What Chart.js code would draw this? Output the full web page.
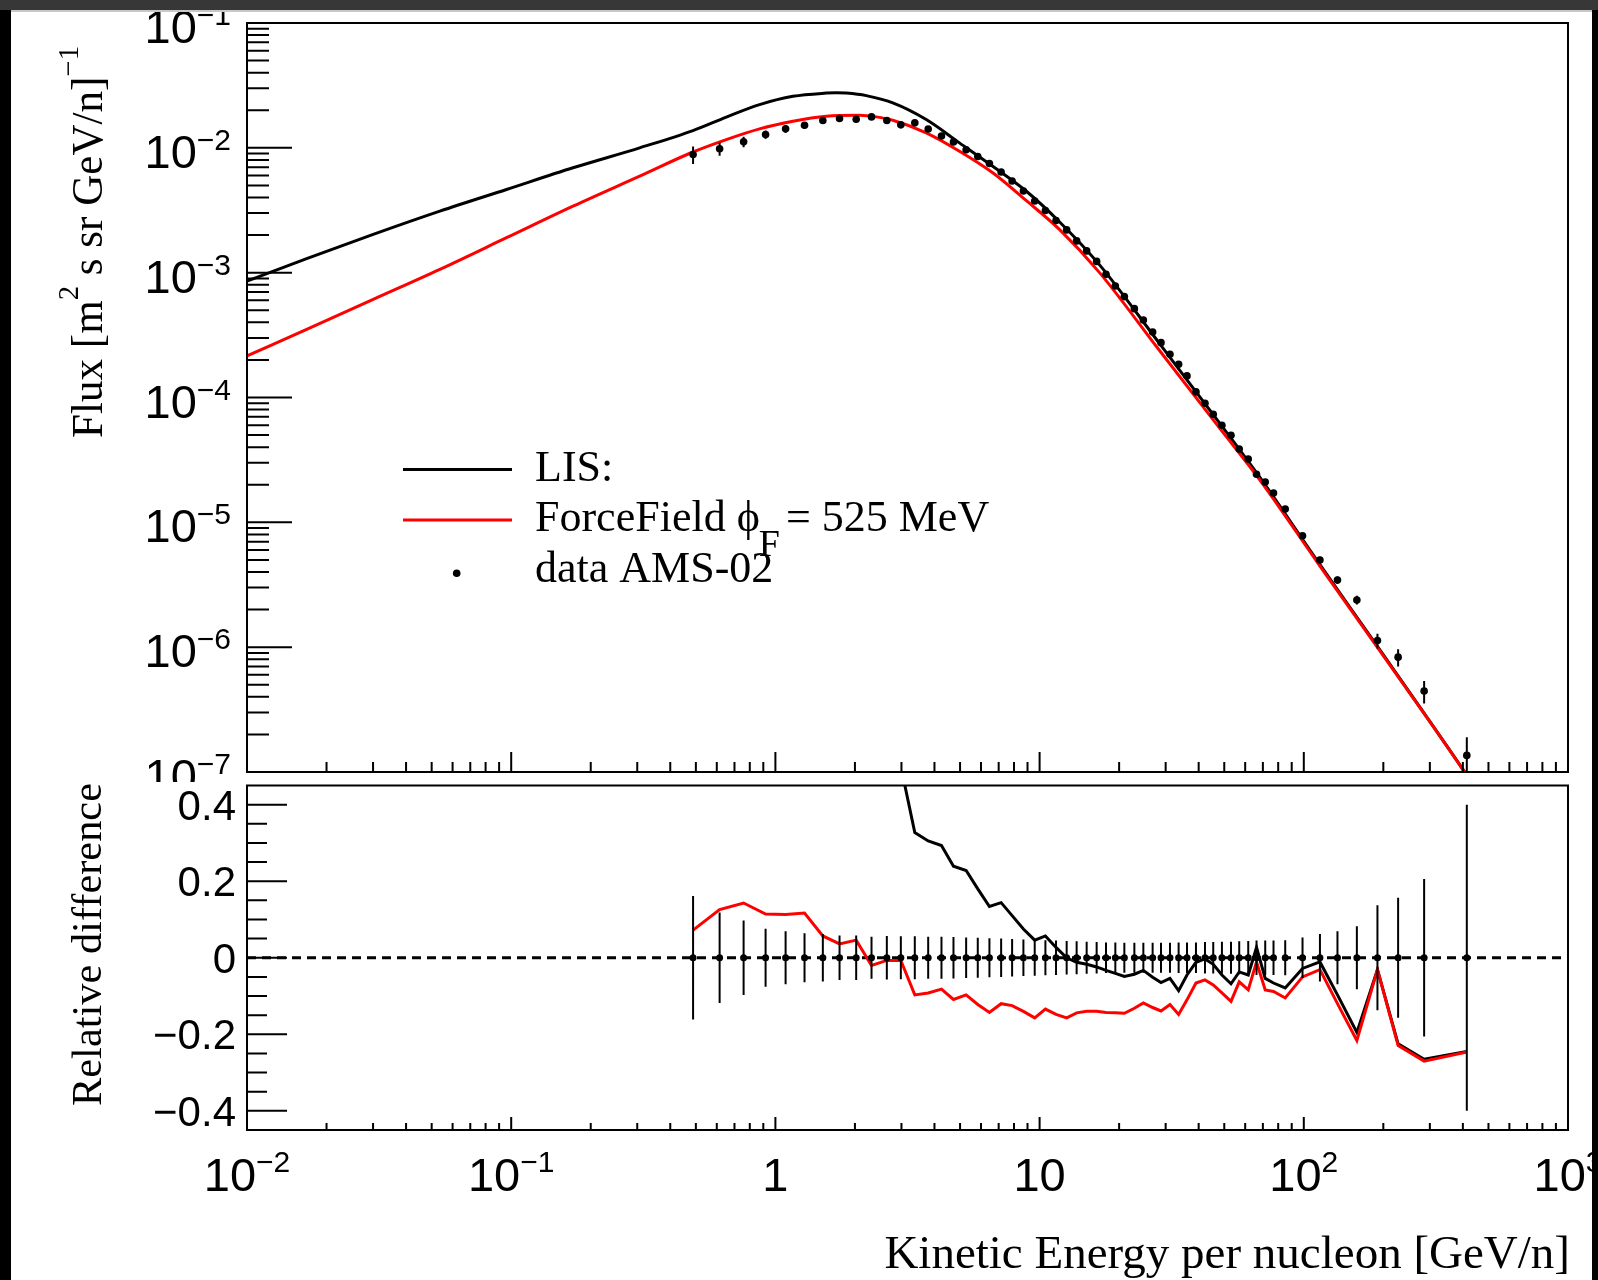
<!DOCTYPE html>
<html>
<head>
<meta charset="utf-8">
<title>Flux vs Kinetic Energy per nucleon</title>
<script src="https://cdn.jsdelivr.net/npm/chart.js@4.4.1/dist/chart.umd.min.js"></script>
<style>
  html, body { margin:0; padding:0; background:#fff; }
  body { width:1598px; height:1280px; position:relative; overflow:hidden; }
  canvas { position:absolute; left:0; }
  #topPad { top:0; }
  #bottomPad { top:782px; }
  .edge { position:absolute; z-index:10; }
</style>
</head>
<body>
<canvas id="topPad" width="1598" height="782"></canvas>
<canvas id="bottomPad" width="1598" height="498"></canvas>
<div class="edge" style="left:0;top:0;width:11px;height:1280px;background:#000"></div>
<div class="edge" style="left:1592px;top:0;width:6px;height:1280px;background:#000"></div>
<div class="edge" style="left:0;top:0;width:1598px;height:10px;background:#373737"></div>
<div class="edge" style="left:11px;top:10px;width:1581px;height:2px;background:#c8c8c8"></div>
<script>
// ---------------- data ----------------
const energyGeV = [0.488, 0.615, 0.758, 0.918, 1.093, 1.289, 1.512, 1.749, 2.022, 2.311,
  2.641, 2.984, 3.370, 3.787, 4.252, 4.721, 5.272, 5.834, 6.458, 7.152,
  7.870, 8.684, 9.583, 10.52, 11.54, 12.66, 13.81, 15.07, 16.44, 17.84,
  19.35, 20.93, 22.84, 24.70, 26.78, 28.81, 31.15, 33.59, 36.13, 39.07,
  42.26, 45.42, 48.99, 53.02, 56.96, 61.62, 66.23, 71.45, 76.80, 85.05,
  98.9, 115.1, 134.1, 158.8, 190.0, 227.5, 285.4, 414.0];

const fluxData = [8.84e-3, 9.82e-3, 1.117e-2, 1.277e-2, 1.419e-2, 1.516e-2, 1.654e-2, 1.716e-2, 1.694e-2, 1.770e-2,
  1.654e-2, 1.528e-2, 1.585e-2, 1.414e-2, 1.243e-2, 1.113e-2, 9.64e-3, 8.52e-3, 7.49e-3, 6.40e-3,
  5.43e-3, 4.51e-3, 3.75e-3, 3.15e-3, 2.62e-3, 2.20e-3, 1.796e-3, 1.494e-3, 1.231e-3, 9.69e-4,
  7.81e-4, 6.43e-4, 5.15e-4, 4.18e-4, 3.35e-4, 2.75e-4, 2.22e-4, 1.846e-4, 1.489e-4, 1.109e-4,
  9.00e-5, 7.35e-5, 6.00e-5, 4.99e-5, 3.86e-5, 3.21e-5, 2.43e-5, 2.10e-5, 1.715e-5, 1.277e-5,
  7.81e-6, 4.99e-6, 3.45e-6, 2.39e-6, 1.129e-6, 8.32e-7, 4.45e-7, 1.358e-7];

const relError = [0.161, 0.118, 0.097, 0.076, 0.069, 0.064, 0.062, 0.058, 0.058, 0.055,
  0.057, 0.056, 0.056, 0.055, 0.055, 0.054, 0.053, 0.052, 0.051, 0.050,
  0.049, 0.048, 0.047, 0.046, 0.045, 0.044, 0.043, 0.042, 0.041, 0.040,
  0.040, 0.039, 0.039, 0.039, 0.039, 0.039, 0.039, 0.040, 0.040, 0.040,
  0.041, 0.041, 0.042, 0.042, 0.043, 0.044, 0.045, 0.045, 0.045, 0.046,
  0.053, 0.062, 0.069, 0.082, 0.137, 0.157, 0.206, 0.400];

const lisEnergy = [0.01, 0.01682, 0.03004, 0.0537, 0.0960, 0.1714, 0.3064, 0.4875, 0.652, 0.871,
  1.165, 1.558, 1.70, 1.854, 2.207, 2.782, 3.722, 4.973, 6.647, 8.889,
  11.88, 16.83, 28.39, 47.86, 67.80, 114.4, 192.9, 404.4, 712];
const lisFlux = [8.57e-4, 1.294e-3, 2.025e-3, 3.11e-3, 4.64e-3, 6.92e-3, 1.0e-2, 1.375e-2, 1.765e-2, 2.22e-2,
  2.587e-2, 2.745e-2, 2.765e-2, 2.745e-2, 2.62e-2, 2.29e-2, 1.684e-2, 1.096e-2, 7.12e-3, 4.51e-3,
  2.56e-3, 1.16e-3, 2.72e-4, 6.30e-5, 2.33e-5, 4.66e-6, 9.69e-7, 1.018e-7, 1.7e-8];

const ffEnergy = [0.01, 0.01682, 0.03004, 0.0537, 0.0960, 0.1714, 0.3064, 0.4875, 0.652, 0.871,
  1.165, 1.558, 2.082, 2.407, 2.782, 3.722, 4.973, 6.647, 8.889, 11.88,
  16.83, 28.39, 47.86, 67.80, 114.4, 192.9, 404.4, 712];
const ffFlux = [2.152e-4, 3.52e-4, 6.11e-4, 1.063e-3, 1.905e-3, 3.41e-3, 5.93e-3, 9.26e-3, 1.165e-2, 1.419e-2,
  1.632e-2, 1.790e-2, 1.823e-2, 1.770e-2, 1.662e-2, 1.318e-2, 9.39e-3, 6.31e-3, 3.79e-3, 2.22e-3,
  1.006e-3, 2.39e-4, 5.73e-5, 2.22e-5, 4.55e-6, 9.51e-7, 1.011e-7, 1.6e-8];

const relDiffFF = [0.072, 0.126, 0.143, 0.114, 0.113, 0.117, 0.057, 0.036, 0.046, -0.020,
  -0.007, -0.007, -0.097, -0.092, -0.082, -0.109, -0.097, -0.122, -0.143, -0.120,
  -0.125, -0.140, -0.157, -0.134, -0.148, -0.157, -0.144, -0.140, -0.140, -0.143,
  -0.144, -0.145, -0.132, -0.118, -0.130, -0.139, -0.122, -0.148, -0.110, -0.066,
  -0.058, -0.071, -0.092, -0.114, -0.063, -0.084, -0.011, -0.084, -0.088, -0.105,
  -0.050, -0.031, -0.120, -0.216, -0.031, -0.229, -0.270, -0.246];

const relDiffLIS = [0.85, 0.92, 0.95, 0.90, 0.86, 0.82, 0.74, 0.70, 0.66, 0.60,
  0.58, 0.50, 0.327, 0.305, 0.293, 0.239, 0.228, 0.180, 0.134, 0.144,
  0.110, 0.075, 0.046, 0.057, 0.027, 0.000, -0.012, -0.017, -0.024, -0.033,
  -0.041, -0.049, -0.043, -0.033, -0.051, -0.065, -0.054, -0.086, -0.045, -0.012,
  -0.003, -0.017, -0.045, -0.068, -0.037, -0.045, 0.027, -0.054, -0.066, -0.079,
  -0.028, -0.011, -0.097, -0.195, -0.031, -0.225, -0.265, -0.245];

const fluxTickExps = [-1, -2, -3, -4, -5, -6, -7];
const energyTickExps = [-2, -1, 0, 1, 2, 3];
const relTicks = [0.4, 0.2, 0, -0.2, -0.4];
const legendNames = ['LIS:', 'ForceField \u03D5', 'F', '= 525 MeV', 'data AMS-02'];
const xTitle = 'Kinetic Energy per nucleon [GeV/n]';
const yTitleTop = ['Flux [m', '2', ' s sr GeV/n]', '\u22121'];
const yTitleBottom = 'Relative difference';

// ---------------- helpers ----------------
const SANS = '"Liberation Sans", Arial, Helvetica, sans-serif';
const SERIF = '"Liberation Serif", "Times New Roman", Times, serif';
const MINUS = '\u2212';
const OFF2 = 782; // page y offset of the bottom canvas

function powLabel(ctx, exp, x, baseY, supY, align) {
  const baseFont = '47px ' + SANS, supFont = '30px ' + SANS;
  ctx.textAlign = 'left'; ctx.textBaseline = 'alphabetic'; ctx.fillStyle = '#000';
  if (exp === 0 || exp === 1) {
    const t = exp === 0 ? '1' : '10';
    ctx.font = baseFont; const w = ctx.measureText(t).width;
    const x0 = align === 'right' ? x - w : align === 'center' ? x - w / 2 : x;
    ctx.fillText(t, x0, baseY); return;
  }
  const sup = exp < 0 ? MINUS + String(-exp) : String(exp);
  ctx.font = baseFont; const wb = ctx.measureText('10').width;
  ctx.font = supFont; const ws = ctx.measureText(sup).width;
  const total = wb + ws;
  const x0 = align === 'right' ? x - total : align === 'center' ? x - total / 2 : x;
  ctx.font = baseFont; ctx.fillText('10', x0, baseY);
  ctx.font = supFont; ctx.fillText(sup, x0 + wb, supY);
}

function drawFrame(ctx, a) {
  ctx.save();
  ctx.strokeStyle = '#000'; ctx.lineWidth = 2;
  ctx.strokeRect(a.left, a.top, a.right - a.left, a.bottom - a.top);
  ctx.restore();
}

function drawLogXTicks(ctx, xs, a, majLen, minLen) {
  ctx.beginPath();
  for (let e = -2; e <= 3; e++) {
    for (let k = 1; k <= 9; k++) {
      const v = k * Math.pow(10, e);
      if (v > 1000 * 1.0001) continue;
      const px = xs.getPixelForValue(v);
      const len = k === 1 ? majLen : minLen;
      ctx.moveTo(px, a.bottom); ctx.lineTo(px, a.bottom - len);
    }
  }
  ctx.stroke();
}

function rotatedTitle(ctx, parts, baseX, startY, length, baseSize) {
  ctx.save();
  ctx.translate(baseX, startY);
  ctx.rotate(-Math.PI / 2);
  let w = 0;
  parts.forEach(p => { ctx.font = (p.sup ? Math.round(baseSize * 0.66) : baseSize) + 'px ' + SERIF; w += ctx.measureText(p.t).width; });
  const sx = length / w;
  ctx.scale(sx, 1);
  ctx.textAlign = 'left'; ctx.textBaseline = 'alphabetic'; ctx.fillStyle = '#000';
  let x = 0;
  parts.forEach(p => {
    ctx.font = (p.sup ? Math.round(baseSize * 0.66) : baseSize) + 'px ' + SERIF;
    ctx.fillText(p.t, x, p.sup ? -24 : 0);
    x += ctx.measureText(p.t).width;
  });
  ctx.restore();
}

// ---------------- top pad plugin ----------------
const topDecor = {
  id: 'topDecor',
  afterDatasetsDraw(chart) {
    const ctx = chart.ctx, xs = chart.scales.x, ys = chart.scales.y, a = chart.chartArea;
    ctx.save();
    ctx.beginPath(); ctx.rect(a.left, a.top, a.right - a.left, a.bottom - a.top); ctx.clip();
    ctx.strokeStyle = '#000'; ctx.lineWidth = 2;
    ctx.beginPath();
    energyGeV.forEach((e, i) => {
      const px = xs.getPixelForValue(e);
      const y1 = ys.getPixelForValue(fluxData[i] * (1 + relError[i]));
      const y2 = ys.getPixelForValue(fluxData[i] * (1 - relError[i]));
      ctx.moveTo(px, y1); ctx.lineTo(px, y2);
    });
    ctx.stroke();
    ctx.restore();
  },
  afterDraw(chart) {
    const ctx = chart.ctx, xs = chart.scales.x, ys = chart.scales.y, a = chart.chartArea;
    ctx.save();
    ctx.strokeStyle = '#000'; ctx.lineWidth = 2;
    ctx.beginPath();
    for (let e = -7; e <= -1; e++) {
      for (let k = 1; k <= 9; k++) {
        const v = k * Math.pow(10, e);
        if (v > 0.1 * 1.0001) continue;
        const py = ys.getPixelForValue(v);
        ctx.moveTo(a.left, py); ctx.lineTo(a.left + (k === 1 ? 45 : 22), py);
      }
    }
    ctx.stroke();
    drawLogXTicks(ctx, xs, a, 20, 10);
    ctx.restore();
    drawFrame(ctx, a);
    ctx.save();
    fluxTickExps.forEach(e => {
      const py = ys.getPixelForValue(Math.pow(10, e));
      powLabel(ctx, e, 231, py + 20, py + 2, 'right');
    });
    rotatedTitle(ctx, [{t: yTitleTop[0]}, {t: yTitleTop[1], sup: true}, {t: yTitleTop[2]}, {t: yTitleTop[3], sup: true}], 102, 438, 392, 45);
    // legend
    ctx.lineWidth = 3; ctx.lineCap = 'butt';
    ctx.strokeStyle = '#000'; ctx.beginPath(); ctx.moveTo(403, 469.5); ctx.lineTo(512, 469.5); ctx.stroke();
    ctx.strokeStyle = '#ff0000'; ctx.beginPath(); ctx.moveTo(403, 520); ctx.lineTo(512, 520); ctx.stroke();
    ctx.fillStyle = '#000'; ctx.beginPath(); ctx.arc(456.7, 573.3, 3.8, 0, Math.PI * 2); ctx.fill();
    ctx.textAlign = 'left'; ctx.textBaseline = 'alphabetic';
    ctx.font = '44px ' + SERIF;
    ctx.fillText(legendNames[0], 535, 481);
    ctx.fillText(legendNames[1], 535, 531);
    const w1 = ctx.measureText(legendNames[1]).width;
    ctx.font = '38px ' + SERIF;
    const fx = 535 + w1 - 1;
    ctx.fillText(legendNames[2], fx, 556);
    const wF = ctx.measureText(legendNames[2]).width;
    ctx.font = '44px ' + SERIF;
    ctx.fillText(legendNames[3], Math.max(fx + wF + 6, 780), 531);
    ctx.fillText(legendNames[4], 535, 582);
    ctx.restore();
  }
};

// ---------------- bottom pad plugin ----------------
const bottomDecor = {
  id: 'bottomDecor',
  afterDatasetsDraw(chart) {
    const ctx = chart.ctx, xs = chart.scales.x, ys = chart.scales.y, a = chart.chartArea;
    ctx.save();
    ctx.beginPath(); ctx.rect(a.left, a.top, a.right - a.left, a.bottom - a.top); ctx.clip();
    ctx.strokeStyle = '#000'; ctx.lineWidth = 2;
    ctx.beginPath();
    energyGeV.forEach((e, i) => {
      const px = xs.getPixelForValue(e);
      ctx.moveTo(px, ys.getPixelForValue(relError[i]));
      ctx.lineTo(px, ys.getPixelForValue(-relError[i]));
    });
    ctx.stroke();
    ctx.restore();
  },
  afterDraw(chart) {
    const ctx = chart.ctx, xs = chart.scales.x, ys = chart.scales.y, a = chart.chartArea;
    ctx.save();
    ctx.strokeStyle = '#000'; ctx.lineWidth = 2;
    ctx.beginPath();
    for (let i = -8; i <= 8; i++) {
      const v = i * 0.05;
      const py = ys.getPixelForValue(v);
      ctx.moveTo(a.left, py); ctx.lineTo(a.left + (i % 4 === 0 ? 40 : 20), py);
    }
    ctx.stroke();
    drawLogXTicks(ctx, xs, a, 13, 7);
    ctx.restore();
    drawFrame(ctx, a);
    ctx.save();
    ctx.fillStyle = '#000'; ctx.textBaseline = 'alphabetic';
    ctx.font = '42px ' + SANS; ctx.textAlign = 'right';
    relTicks.forEach(v => {
      const py = ys.getPixelForValue(v);
      const t = v === 0 ? '0' : (v < 0 ? MINUS : '') + Math.abs(v).toFixed(1);
      ctx.fillText(t, 236, py + 15);
    });
    energyTickExps.forEach(e => {
      const px = xs.getPixelForValue(Math.pow(10, e));
      powLabel(ctx, e, px, 1191 - OFF2, 1172 - OFF2, 'center');
    });
    ctx.font = '47px ' + SERIF; ctx.textAlign = 'right';
    ctx.fillText(xTitle, 1570, 1268 - OFF2);
    rotatedTitle(ctx, [{t: yTitleBottom}], 101, 1106 - OFF2, 323, 42);
    ctx.restore();
  }
};

// ---------------- charts ----------------
const topChart = new Chart(document.getElementById('topPad'), {
  type: 'scatter',
  data: {
    datasets: [
      { label: 'data AMS-02', data: energyGeV.map((e, i) => ({x: e, y: fluxData[i]})),
        showLine: false, pointRadius: 3.8, pointHoverRadius: 3.8, pointBackgroundColor: '#000', pointBorderColor: '#000', pointBorderWidth: 0 },
      { label: 'ForceField', data: ffEnergy.map((e, i) => ({x: e, y: ffFlux[i]})),
        showLine: true, borderColor: '#ff0000', borderWidth: 3, pointRadius: 0, cubicInterpolationMode: 'monotone', fill: false },
      { label: 'LIS', data: lisEnergy.map((e, i) => ({x: e, y: lisFlux[i]})),
        showLine: true, borderColor: '#000000', borderWidth: 3, pointRadius: 0, cubicInterpolationMode: 'monotone', fill: false }
    ]
  },
  options: {
    responsive: false, maintainAspectRatio: false, animation: false, events: [],
    layout: { padding: { left: 247, right: 30, top: 23, bottom: 10 } },
    scales: {
      x: { type: 'logarithmic', min: 0.01, max: 1000, display: false },
      y: { type: 'logarithmic', min: 1e-7, max: 0.1, display: false }
    },
    plugins: { legend: { display: false }, tooltip: { enabled: false } }
  },
  plugins: [topDecor]
});

const bottomChart = new Chart(document.getElementById('bottomPad'), {
  type: 'scatter',
  data: {
    datasets: [
      { label: 'data', data: energyGeV.map(e => ({x: e, y: 0})),
        showLine: false, pointRadius: 3.5, pointHoverRadius: 3.5, pointBackgroundColor: '#000', pointBorderWidth: 0 },
      { label: 'ForceField', data: energyGeV.map((e, i) => ({x: e, y: relDiffFF[i]})),
        showLine: true, borderColor: '#ff0000', borderWidth: 3, pointRadius: 0, fill: false },
      { label: 'LIS', data: energyGeV.map((e, i) => ({x: e, y: relDiffLIS[i]})),
        showLine: true, borderColor: '#000000', borderWidth: 3, pointRadius: 0, fill: false },
      { label: 'zero', data: [{x: 0.01, y: 0}, {x: 1000, y: 0}],
        showLine: true, borderColor: '#000000', borderWidth: 3, borderDash: [9, 6], pointRadius: 0, fill: false }
    ]
  },
  options: {
    responsive: false, maintainAspectRatio: false, animation: false, events: [],
    layout: { padding: { left: 247, right: 30, top: 1, bottom: 150 } },
    scales: {
      x: { type: 'logarithmic', min: 0.01, max: 1000, display: false },
      y: { type: 'linear', min: -0.45, max: 0.45, display: false }
    },
    plugins: { legend: { display: false }, tooltip: { enabled: false } }
  },
  plugins: [bottomDecor]
});
</script>
</body>
</html>
